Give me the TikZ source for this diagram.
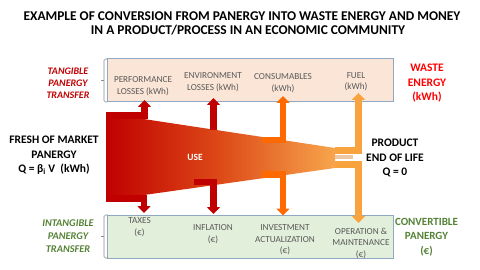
\documentclass[tikz,border=0pt]{standalone}
\usepackage{fontspec}
\setmainfont{Carlito}
\usetikzlibrary{arrows.meta}
\definecolor{dred}{HTML}{C00000}
\definecolor{bred}{HTML}{FF0000}
\definecolor{midc}{HTML}{DD4A18}
\definecolor{lorange}{HTML}{F7A54C}
\definecolor{corange}{HTML}{FF6A00}
\definecolor{forange}{HTML}{F9A33E}
\definecolor{stripc}{HTML}{EDC7A6}
\definecolor{peach}{HTML}{FBE5D6}
\definecolor{lgreen}{HTML}{E2EFDA}
\definecolor{boxb}{HTML}{8FA8C4}
\definecolor{textg}{HTML}{595959}
\definecolor{dgreen}{HTML}{548235}
\definecolor{brkc}{HTML}{8C8C8C}
\tikzset{
  panelbox/.style={draw=boxb, line width=1pt, inner sep=0pt},
  pipe/.style={line width=6.5pt, line join=miter, -{Triangle[width=13pt,length=7pt]}},
  boxtxt/.style={text=textg, font=\fontsize{9.2}{11.5}\selectfont, align=center, inner sep=0pt},
  sidelbl/.style={font=\bfseries\fontsize{11.5}{14.5}\selectfont, align=center, inner sep=0pt},
  brk/.style={draw=brkc, line width=0.6pt, rounded corners=1.5pt},
}
\begin{document}
\begin{tikzpicture}[x=1pt,y=-1pt]
\useasboundingbox (0,0) rectangle (480,270);
% title
\node[font=\bfseries\fontsize{13.4}{14}\selectfont, align=center, inner sep=0pt] (title) at (242,23)
  {EXAMPLE OF CONVERSION FROM PANERGY INTO WASTE ENERGY AND MONEY\\\hspace*{12pt}IN A PRODUCT/PROCESS IN AN ECONOMIC COMMUNITY};
% panels
\node[panelbox, fill=peach, minimum width=286pt, minimum height=43pt] (tbox) at (250,80.5) {};
\node[panelbox, fill=lgreen, minimum width=286pt, minimum height=43pt] (bbox) at (250.5,236.5) {};
% brackets
\draw[brk] (107,59) -- (104,59) -- (104,102) -- (107,102);
\draw[brk] (104,80.5) -- (100.5,80.5);
\draw[brk] (108,215) -- (104,215) -- (104,258) -- (108,258);
\draw[brk] (104,236.5) -- (100.5,236.5);
% main flow body
\shade[left color=dred, right color=lorange, middle color=midc]
  (106,113) -- (137,113) -- (137,118) -- (335,148) -- (335,168) -- (137,196) -- (137,201) -- (106,201) -- cycle;
\fill[stripc] (335,155.5) rectangle (353,159);
% coordinates for pipes
\coordinate (p1a) at (106,115.5); \coordinate (p1b) at (144.5,115.5); \coordinate (p1c) at (144.5,100);
\coordinate (p2a) at (213.5,130); \coordinate (p2c) at (213.5,98);
\coordinate (p3a) at (262,140); \coordinate (p3b) at (283,140); \coordinate (p3c) at (283,96);
\coordinate (p4a) at (335,150.5); \coordinate (p4b) at (358.5,150.5); \coordinate (p4c) at (358.5,93);
\coordinate (q1a) at (106,198.5); \coordinate (q1b) at (144,198.5); \coordinate (q1c) at (144,213);
\coordinate (q2a) at (194,182); \coordinate (q2b) at (213.5,182); \coordinate (q2c) at (213.5,214);
\coordinate (q3a) at (262,174.5); \coordinate (q3b) at (283,174.5); \coordinate (q3c) at (283,215.5);
\coordinate (q4a) at (335,164.5); \coordinate (q4b) at (358.5,164.5); \coordinate (q4c) at (358.5,223);
% pipes
\draw[pipe, dred] (p1a) -- (p1b) -- (p1c);
\draw[pipe, dred] (p2a) -- (p2c);
\draw[pipe, corange] (p3a) -- (p3b) -- (p3c);
\draw[pipe, forange] (p4a) -- (p4b) -- (p4c);
\draw[pipe, dred] (q1a) -- (q1b) -- (q1c);
\draw[pipe, dred] (q2a) -- (q2b) -- (q2c);
\draw[pipe, corange] (q3a) -- (q3b) -- (q3c);
\draw[pipe, forange] (q4a) -- (q4b) -- (q4c);
% box texts
\node[boxtxt] (perf) at (143,86) {PERFORMANCE\\LOSSES (kWh)};
\node[boxtxt] (env) at (213,82) {ENVIRONMENT\\LOSSES (kWh)};
\node[boxtxt] (cons) at (283,83) {CONSUMABLES\\(kWh)};
\node[boxtxt] (fuel) at (356,81.5) {FUEL\\(kWh)};
\node[boxtxt] (tax) at (139.5,227) {TAXES\\(€)};
\node[boxtxt] (infl) at (213,234) {INFLATION\\(€)};
\node[boxtxt] (inv) at (285,240) {INVESTMENT\\ACTUALIZATION\\(€)};
\node[boxtxt] (oper) at (361,243) {OPERATION \&\\MAINTENANCE\\(€)};
% side labels
\node[font=\bfseries\itshape\fontsize{10}{12}\selectfont, text=dred, align=center, inner sep=0pt] (tang) at (68,83) {TANGIBLE\\PANERGY\\TRANSFER};
\node[sidelbl, text=bred] (waste) at (427,83.5) {WASTE\\ENERGY\\(kWh)};
\node[sidelbl] (fresh) at (54,155.5) {FRESH OF MARKET\\PANERGY\\Q = β\textsubscript{i} V~~(kWh)};
\node[sidelbl] (prod) at (395,158) {PRODUCT\\END OF LIFE\\Q = 0};
\node[font=\bfseries\itshape\fontsize{10.3}{13}\selectfont, text=dgreen, align=center, inner sep=0pt] (intang) at (68,236) {INTANGIBLE\\PANERGY\\TRANSFER};
\node[sidelbl, text=dgreen, font=\bfseries\fontsize{11}{14.5}\selectfont] (conv) at (426.5,237) {CONVERTIBLE\\PANERGY\\(€)};
\node[font=\bfseries\fontsize{9.5}{11}\selectfont, text=white, inner sep=0pt] (use) at (195,157) {USE};
\end{tikzpicture}
\end{document}
